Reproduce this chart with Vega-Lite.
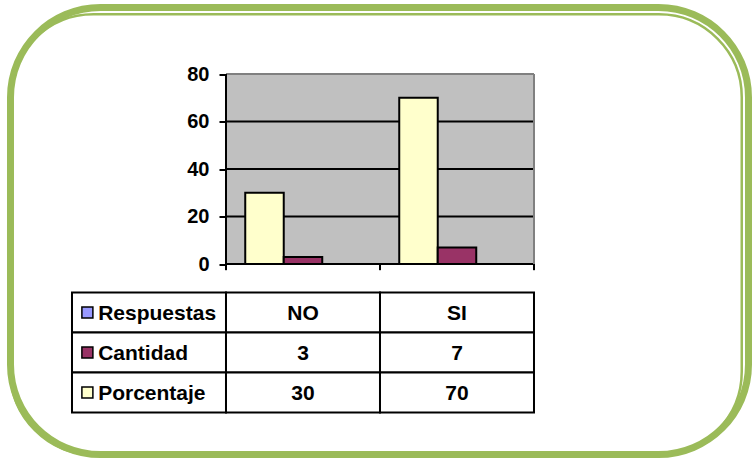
{
  "$schema": "https://vega.github.io/schema/vega-lite/v6.json",
  "width": 738,
  "height": 447,
  "autosize": {"type": "none"},
  "padding": {"left": 10.5, "top": 7.5, "right": 3.5, "bottom": 6.5},
  "background": "white",
  "config": {
    "view": {"stroke": "#9BBB59", "strokeWidth": 7, "cornerRadius": 90, "fill": "white"},
    "font": "Liberation Sans"
  },
  "datasets": {
    "barras": [
      {"respuesta": "NO", "serie": "Porcentaje", "valor": 30},
      {"respuesta": "NO", "serie": "Cantidad", "valor": 3},
      {"respuesta": "SI", "serie": "Porcentaje", "valor": 70},
      {"respuesta": "SI", "serie": "Cantidad", "valor": 7}
    ],
    "categorias": [{"respuesta": "NO"}, {"respuesta": "SI"}],
    "rejilla": [
      {"respuesta": "NO", "nivel": 0}, {"respuesta": "NO", "nivel": 20}, {"respuesta": "NO", "nivel": 40}, {"respuesta": "NO", "nivel": 60},
      {"respuesta": "SI", "nivel": 0}, {"respuesta": "SI", "nivel": 20}, {"respuesta": "SI", "nivel": 40}, {"respuesta": "SI", "nivel": 60}
    ],
    "tabla": [
      {"fila": "Respuestas", "columna": "etiqueta", "texto": "Respuestas"},
      {"fila": "Respuestas", "columna": "NO", "texto": "NO"},
      {"fila": "Respuestas", "columna": "SI", "texto": "SI"},
      {"fila": "Cantidad", "columna": "etiqueta", "texto": "Cantidad"},
      {"fila": "Cantidad", "columna": "NO", "texto": "3"},
      {"fila": "Cantidad", "columna": "SI", "texto": "7"},
      {"fila": "Porcentaje", "columna": "etiqueta", "texto": "Porcentaje"},
      {"fila": "Porcentaje", "columna": "NO", "texto": "30"},
      {"fila": "Porcentaje", "columna": "SI", "texto": "70"}
    ],
    "marco": [{"elemento": "marco"}]
  },
  "resolve": {"scale": {"y": "independent"}, "axis": {"y": "independent"}},
  "layer": [
    {
      "layer": [
        {
          "data": {"name": "categorias"},
          "mark": {"type": "rect", "fill": "#C0C0C0"},
          "encoding": {
            "x": {"field": "respuesta", "type": "nominal", "axis": null, "scale": {"type": "band", "domain": ["etiqueta", "NO", "SI"], "paddingInner": 0, "paddingOuter": 0.8961, "align": 0.2228}},
            "y": {"datum": 80, "type": "quantitative", "scale": {"domain": [-80.2, 108], "nice": false, "zero": false},
              "axis": {"values": [0, 20, 40, 60, 80], "offset": -215.5, "domain": false, "grid": false, "ticks": true, "tickSize": 7, "tickWidth": 2, "tickColor": "black", "labelFont": "Liberation Sans", "labelFontWeight": "bold", "labelFontSize": 20, "labelColor": "black", "labelPadding": 10, "title": null}},
            "y2": {"datum": 0}
          }
        },
        {
          "data": {"name": "rejilla"},
          "mark": {"type": "rect", "fill": null, "stroke": "black", "strokeWidth": 2},
          "encoding": {
            "x": {"field": "respuesta", "type": "nominal", "axis": null, "scale": {"type": "band", "domain": ["etiqueta", "NO", "SI"], "paddingInner": 0, "paddingOuter": 0.8961, "align": 0.2228}},
            "y": {"field": "nivel", "type": "quantitative", "scale": {"domain": [-80.2, 108], "nice": false, "zero": false},
              "axis": {"values": [0, 20, 40, 60, 80], "offset": -215.5, "domain": false, "grid": false, "ticks": true, "tickSize": 7, "tickWidth": 2, "tickColor": "black", "labelFont": "Liberation Sans", "labelFontWeight": "bold", "labelFontSize": 20, "labelColor": "black", "labelPadding": 10, "title": null}},
            "y2": {"field": "nivel"}
          }
        },
        {
          "data": {"name": "categorias"},
          "mark": {"type": "rect", "fill": null, "stroke": "#808080", "strokeWidth": 2},
          "encoding": {
            "x": {"field": "respuesta", "type": "nominal", "axis": null, "scale": {"type": "band", "domain": ["etiqueta", "NO", "SI"], "paddingInner": 0, "paddingOuter": 0.8961, "align": 0.2228}},
            "y": {"datum": 80, "type": "quantitative", "scale": {"domain": [-80.2, 108], "nice": false, "zero": false},
              "axis": {"values": [0, 20, 40, 60, 80], "offset": -215.5, "domain": false, "grid": false, "ticks": true, "tickSize": 7, "tickWidth": 2, "tickColor": "black", "labelFont": "Liberation Sans", "labelFontWeight": "bold", "labelFontSize": 20, "labelColor": "black", "labelPadding": 10, "title": null}},
            "y2": {"datum": 80}
          }
        },
        {
          "data": {"name": "categorias"},
          "transform": [{"filter": "datum.respuesta === 'SI'"}],
          "mark": {"type": "rule", "stroke": "#808080", "strokeWidth": 2},
          "encoding": {
            "x": {"field": "respuesta", "type": "nominal", "bandPosition": 1, "axis": null, "scale": {"type": "band", "domain": ["etiqueta", "NO", "SI"], "paddingInner": 0, "paddingOuter": 0.8961, "align": 0.2228}},
            "y": {"datum": 80, "type": "quantitative", "scale": {"domain": [-80.2, 108], "nice": false, "zero": false},
              "axis": {"values": [0, 20, 40, 60, 80], "offset": -215.5, "domain": false, "grid": false, "ticks": true, "tickSize": 7, "tickWidth": 2, "tickColor": "black", "labelFont": "Liberation Sans", "labelFontWeight": "bold", "labelFontSize": 20, "labelColor": "black", "labelPadding": 10, "title": null}},
            "y2": {"datum": 0}
          }
        },
        {
          "data": {"name": "barras"},
          "mark": {"type": "bar", "stroke": "black", "strokeWidth": 2},
          "encoding": {
            "x": {"field": "respuesta", "type": "nominal", "axis": null, "scale": {"type": "band", "domain": ["etiqueta", "NO", "SI"], "paddingInner": 0, "paddingOuter": 0.8961, "align": 0.2228}},
            "xOffset": {"field": "serie", "type": "nominal", "scale": {"domain": ["Porcentaje", "Cantidad", "Respuestas"], "paddingInner": 0, "paddingOuter": 0.5}},
            "y": {"field": "valor", "type": "quantitative", "scale": {"domain": [-80.2, 108], "nice": false, "zero": false},
              "axis": {"values": [0, 20, 40, 60, 80], "offset": -215.5, "domain": false, "grid": false, "ticks": true, "tickSize": 7, "tickWidth": 2, "tickColor": "black", "labelFont": "Liberation Sans", "labelFontWeight": "bold", "labelFontSize": 20, "labelColor": "black", "labelPadding": 10, "title": null}},
            "y2": {"datum": 0},
            "color": {"field": "serie", "type": "nominal", "legend": null, "scale": {"domain": ["Respuestas", "Cantidad", "Porcentaje"], "range": ["#9999FF", "#993366", "#FFFFCC"]}}
          }
        },
        {
          "data": {"name": "categorias"},
          "mark": {"type": "rule", "stroke": "black", "strokeWidth": 2},
          "encoding": {
            "x": {"field": "respuesta", "type": "nominal", "bandPosition": 0, "axis": null, "scale": {"type": "band", "domain": ["etiqueta", "NO", "SI"], "paddingInner": 0, "paddingOuter": 0.8961, "align": 0.2228}},
            "y": {"datum": 0, "type": "quantitative", "scale": {"domain": [-80.2, 108], "nice": false, "zero": false},
              "axis": {"values": [0, 20, 40, 60, 80], "offset": -215.5, "domain": false, "grid": false, "ticks": true, "tickSize": 7, "tickWidth": 2, "tickColor": "black", "labelFont": "Liberation Sans", "labelFontWeight": "bold", "labelFontSize": 20, "labelColor": "black", "labelPadding": 10, "title": null}},
            "y2": {"datum": -2.6}
          }
        },
        {
          "data": {"name": "categorias"},
          "transform": [{"filter": "datum.respuesta === 'SI'"}],
          "mark": {"type": "rule", "stroke": "black", "strokeWidth": 2},
          "encoding": {
            "x": {"field": "respuesta", "type": "nominal", "bandPosition": 1, "axis": null, "scale": {"type": "band", "domain": ["etiqueta", "NO", "SI"], "paddingInner": 0, "paddingOuter": 0.8961, "align": 0.2228}},
            "y": {"datum": 0, "type": "quantitative", "scale": {"domain": [-80.2, 108], "nice": false, "zero": false},
              "axis": {"values": [0, 20, 40, 60, 80], "offset": -215.5, "domain": false, "grid": false, "ticks": true, "tickSize": 7, "tickWidth": 2, "tickColor": "black", "labelFont": "Liberation Sans", "labelFontWeight": "bold", "labelFontSize": 20, "labelColor": "black", "labelPadding": 10, "title": null}},
            "y2": {"datum": -2.6}
          }
        },
        {
          "data": {"name": "categorias"},
          "transform": [{"filter": "datum.respuesta === 'NO'"}],
          "mark": {"type": "rule", "stroke": "black", "strokeWidth": 2},
          "encoding": {
            "x": {"field": "respuesta", "type": "nominal", "bandPosition": 0, "axis": null, "scale": {"type": "band", "domain": ["etiqueta", "NO", "SI"], "paddingInner": 0, "paddingOuter": 0.8961, "align": 0.2228}},
            "y": {"datum": 80, "type": "quantitative", "scale": {"domain": [-80.2, 108], "nice": false, "zero": false},
              "axis": {"values": [0, 20, 40, 60, 80], "offset": -215.5, "domain": false, "grid": false, "ticks": true, "tickSize": 7, "tickWidth": 2, "tickColor": "black", "labelFont": "Liberation Sans", "labelFontWeight": "bold", "labelFontSize": 20, "labelColor": "black", "labelPadding": 10, "title": null}},
            "y2": {"datum": 0}
          }
        }
      ]
    },
    {
      "layer": [
        {
          "data": {"name": "marco"},
          "mark": {"type": "rect", "fill": null, "stroke": "#9BBB59", "strokeWidth": 2.5, "cornerRadius": 83, "xOffset": -6.75, "x2Offset": 6.75, "yOffset": 6.75, "y2Offset": -6.75},
          "encoding": {}
        },
        {
          "data": {"name": "tabla"},
          "mark": {"type": "rect", "fill": "white", "stroke": "black", "strokeWidth": 2},
          "encoding": {
            "x": {"field": "columna", "type": "nominal", "axis": null, "scale": {"type": "band", "domain": ["etiqueta", "NO", "SI"], "paddingInner": 0, "paddingOuter": 0.8961, "align": 0.2228}},
            "y": {"field": "fila", "type": "nominal", "axis": null, "scale": {"type": "band", "domain": ["Respuestas", "Cantidad", "Porcentaje"], "paddingInner": 0, "paddingOuter": 0, "range": [285, 405]}}
          }
        },
        {
          "data": {"name": "tabla"},
          "transform": [{"filter": "datum.columna !== 'etiqueta'"}],
          "mark": {"type": "text", "font": "Liberation Sans", "fontWeight": "bold", "fontSize": 21, "color": "black", "align": "center", "baseline": "middle", "dy": 1},
          "encoding": {
            "x": {"field": "columna", "type": "nominal", "axis": null, "scale": {"type": "band", "domain": ["etiqueta", "NO", "SI"], "paddingInner": 0, "paddingOuter": 0.8961, "align": 0.2228}},
            "y": {"field": "fila", "type": "nominal", "axis": null, "scale": {"type": "band", "domain": ["Respuestas", "Cantidad", "Porcentaje"], "paddingInner": 0, "paddingOuter": 0, "range": [285, 405]}},
            "text": {"field": "texto"}
          }
        },
        {
          "data": {"name": "tabla"},
          "transform": [{"filter": "datum.columna === 'etiqueta'"}],
          "mark": {"type": "text", "font": "Liberation Sans", "fontWeight": "bold", "fontSize": 21, "color": "black", "align": "left", "baseline": "middle", "dy": 1},
          "encoding": {
            "x": {"field": "columna", "type": "nominal", "bandPosition": 0.17, "axis": null, "scale": {"type": "band", "domain": ["etiqueta", "NO", "SI"], "paddingInner": 0, "paddingOuter": 0.8961, "align": 0.2228}},
            "y": {"field": "fila", "type": "nominal", "axis": null, "scale": {"type": "band", "domain": ["Respuestas", "Cantidad", "Porcentaje"], "paddingInner": 0, "paddingOuter": 0, "range": [285, 405]}},
            "text": {"field": "texto"}
          }
        },
        {
          "data": {"name": "tabla"},
          "transform": [{"filter": "datum.columna === 'etiqueta'"}],
          "mark": {"type": "square", "filled": true, "size": 121, "stroke": "black", "strokeWidth": 1.5, "opacity": 1},
          "encoding": {
            "x": {"field": "columna", "type": "nominal", "bandPosition": 0.1, "axis": null, "scale": {"type": "band", "domain": ["etiqueta", "NO", "SI"], "paddingInner": 0, "paddingOuter": 0.8961, "align": 0.2228}},
            "y": {"field": "fila", "type": "nominal", "axis": null, "scale": {"type": "band", "domain": ["Respuestas", "Cantidad", "Porcentaje"], "paddingInner": 0, "paddingOuter": 0, "range": [285, 405]}},
            "fill": {"field": "fila", "type": "nominal", "legend": null, "scale": {"domain": ["Respuestas", "Cantidad", "Porcentaje"], "range": ["#9999FF", "#993366", "#FFFFCC"]}}
          }
        }
      ]
    }
  ]
}
